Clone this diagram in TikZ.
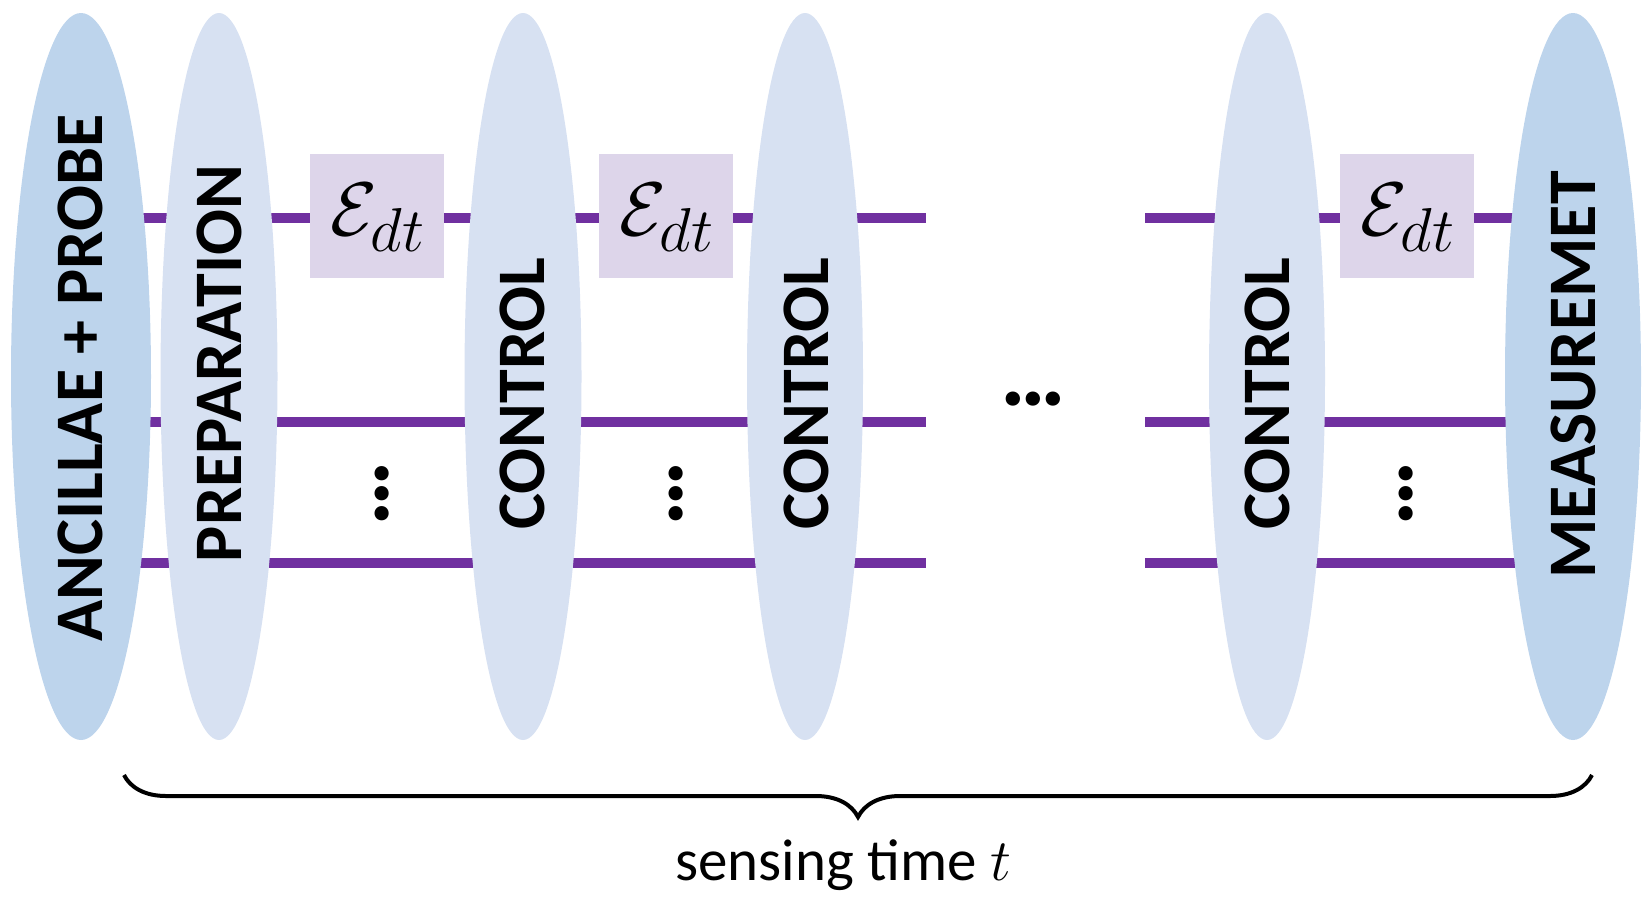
\RequirePackage{fix-cm}
\documentclass[tikz,border=0pt]{standalone}
\usepackage{fontspec}
\setmainfont{Carlito}
\DeclareMathSizes{38}{38}{31}{24}
\usetikzlibrary{shapes.geometric,backgrounds,decorations.pathreplacing}
\definecolor{ellLight}{HTML}{D7E1F2}
\definecolor{ellDark}{HTML}{BDD4EC}
\definecolor{wireCol}{HTML}{7030A0}
\definecolor{gateCol}{HTML}{DDD5EA}
\newcommand{\threedots}{.\kern-2.8pt.\kern-2.8pt.}
\begin{document}
\begin{tikzpicture}[x=0.5pt,y=-0.5pt,
  stage/.style={ellipse, inner sep=0pt, draw=none, minimum height=363.5pt},
  stageL/.style={stage, fill=ellLight},
  stageD/.style={stage, fill=ellDark},
  lbl/.style={rotate=90, font=\fontsize{34}{40}\selectfont\bfseries, inner sep=0pt},
  gate/.style={fill=gateCol, minimum width=67pt, minimum height=62pt, inner sep=0pt},
  gatetext/.style={font=\fontsize{38}{42}\selectfont, inner sep=0pt, anchor=base},
  wire/.style={draw=wireCol, line width=5pt},
  dotsym/.style={font=\fontsize{48}{48}\selectfont\bfseries, inner sep=0pt},
  bracestyle/.style={decorate, decoration={brace, amplitude=21pt}, line width=2pt},
]
\useasboundingbox (0,0) rectangle (1642,900);

% stages
\node[stageD, minimum width=70pt] (anc) at (81,376.5) {};
\node[stageL, minimum width=58.5pt] (prep) at (219,376.5) {};
\node[stageL, minimum width=58.5pt] (ctl1) at (523,376.5) {};
\node[stageL, minimum width=58pt] (ctl2) at (805,376.5) {};
\node[stageL, minimum width=58pt] (ctl3) at (1267,376.5) {};
\node[stageD, minimum width=68pt] (meas) at (1573,376.5) {};

\node[lbl] (tanc) at (80,378) {ANCILLAE + PROBE};
\node[lbl] (tprep) at (219,363.5) {PREPARATION};
\node[lbl] (tctl1) at (522,393.5) {CONTROL};
\node[lbl] (tctl2) at (806,393.5) {CONTROL};
\node[lbl] (tctl3) at (1267,393.5) {CONTROL};
\node[lbl] (tmeas) at (1573,375) {MEASUREMET};

% gates
\node[gate] (g1) at (377,216) {};
\node[gate] (g2) at (665.5,216) {};
\node[gate] (g3) at (1407,216) {};
\node[gatetext] (e1) at (378,235) {$\mathcal{E}_{dt}$};
\node[gatetext] (e2) at (667,235) {$\mathcal{E}_{dt}$};
\node[gatetext] (e3) at (1408,235) {$\mathcal{E}_{dt}$};

% wire ends at the gap
\coordinate (gL1) at (926,218);
\coordinate (gL2) at (926,422);
\coordinate (gL3) at (926,563);
\coordinate (gR1) at (1145,218);
\coordinate (gR2) at (1145,422);
\coordinate (gR3) at (1145,563);

\begin{pgfonlayer}{background}
\draw[wire] (anc.center |- gL1) -- (gL1);
\draw[wire] (anc.center |- gL2) -- (gL2);
\draw[wire] (anc.center |- gL3) -- (gL3);
\draw[wire] (gR1) -- (meas.center |- gR1);
\draw[wire] (gR2) -- (meas.center |- gR2);
\draw[wire] (gR3) -- (meas.center |- gR3);
\end{pgfonlayer}

% dots
\node[dotsym, rotate=90] (vd1) at (382,494) {\threedots};
\node[dotsym, rotate=90] (vd2) at (676,494) {\threedots};
\node[dotsym, rotate=90] (vd3) at (1406,494) {\threedots};
\node[dotsym] (hd) at (1033,399) {\threedots};

% brace
\coordinate (bL) at (124,775);
\coordinate (bR) at (1592,775);
\draw[bracestyle] (bR) -- (bL);
\node[font=\fontsize{29.5}{34}\selectfont, anchor=base] (lab) at (843,880) {sensing time $t$};
\end{tikzpicture}
\end{document}
